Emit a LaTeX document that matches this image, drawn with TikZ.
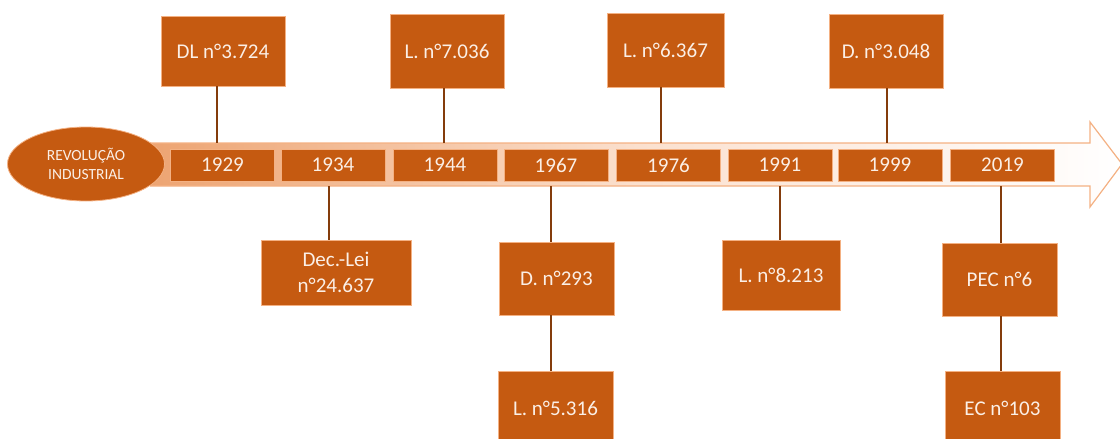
\documentclass[tikz,border=0pt]{standalone}
\usepackage{fontspec}
\setmainfont{Carlito}
\usetikzlibrary{shapes.geometric}
\definecolor{rust}{HTML}{C55A11}
\definecolor{lightor}{HTML}{F4B183}
\definecolor{paleor}{HTML}{F8CBAD}
\definecolor{brownline}{HTML}{843C0C}
\definecolor{txt}{HTML}{FBEFE6}
\begin{document}
\begin{tikzpicture}[x=1pt,y=-1pt,
  yearbox/.style={draw=lightor,line width=1pt,fill=rust,text=txt,font=\fontsize{21}{22}\selectfont,inner sep=0pt,minimum width=104pt,minimum height=32pt},
  lawbox/.style={draw=lightor,line width=0.8pt,fill=rust,text=txt,font=\fontsize{21}{26}\selectfont,inner sep=0pt,align=center},
  conn/.style={draw=brownline,line width=1.5pt}]
\useasboundingbox (0,0) rectangle (1120,439);
% arrow
\shade[left color=lightor!85!rust,right color=white,middle color=paleor!60!white]
  (150,143) -- (1090,143) -- (1090,122) -- (1122,164) -- (1090,207) -- (1090,186) -- (150,186) -- cycle;
\draw[lightor,line width=1.2pt]
  (150,143) -- (1090,143) -- (1090,122) -- (1122,164) -- (1090,207) -- (1090,186) -- (150,186);
% ellipse
\node[ellipse,fill=rust,draw=lightor,line width=0.8pt,minimum width=157pt,minimum height=74pt,inner sep=0pt,text=txt,align=center,font=\fontsize{15.5}{19}\selectfont] (rev) at (86,164) {REVOLUÇÃO\\INDUSTRIAL};
% year boxes
\node[yearbox] (y1929) at (222.5,165) {1929};
\node[yearbox] (y1934) at (333,165) {1934};
\node[yearbox] (y1944) at (445,165) {1944};
\node[yearbox] (y1967) at (556,165) {1967};
\node[yearbox] (y1976) at (668.5,165) {1976};
\node[yearbox] (y1991) at (780,165) {1991};
\node[yearbox] (y1999) at (890,165) {1999};
\node[yearbox] (y2019) at (1002.5,165) {2019};
% top boxes
\node[lawbox,minimum width=124pt,minimum height=70pt] (dl) at (223,51) {DL n°3.724};
\node[lawbox,minimum width=114pt,minimum height=74pt] (l7036) at (447,51) {L. n°7.036};
\node[lawbox,minimum width=117pt,minimum height=74pt] (l6367) at (665.5,50) {L. n°6.367};
\node[lawbox,minimum width=114pt,minimum height=74pt] (d3048) at (886,51) {D. n°3.048};
% bottom boxes
\node[lawbox,minimum width=150pt,minimum height=65pt] (dec) at (336,272.5) {Dec.-Lei\\n°24.637};
\node[lawbox,minimum width=115pt,minimum height=73pt] (d293) at (556.5,278.5) {D. n°293};
\node[lawbox,minimum width=115pt,minimum height=73pt] (l5316) at (555.5,408) {L. n°5.316};
\node[lawbox,minimum width=118pt,minimum height=70pt] (l8213) at (781,275) {L. n°8.213};
\node[lawbox,minimum width=115pt,minimum height=73pt] (pec) at (999.5,279.5) {PEC n°6};
\node[lawbox,minimum width=115pt,minimum height=73pt] (ec) at (1002.5,408) {EC n°103};
% connectors
\coordinate (c1) at (217,143);
\coordinate (c2) at (444,143);
\coordinate (c3) at (661,143);
\coordinate (c4) at (887,143);
\coordinate (c5) at (329,186);
\coordinate (c6) at (551,186);
\coordinate (c7) at (780,186);
\coordinate (c8) at (1001,186);
\draw[conn] (dl.south -| c1) -- (c1);
\draw[conn] (l7036.south -| c2) -- (c2);
\draw[conn] (l6367.south -| c3) -- (c3);
\draw[conn] (d3048.south -| c4) -- (c4);
\draw[conn] (c5) -- (dec.north -| c5);
\draw[conn] (c6) -- (d293.north -| c6);
\draw[conn] (d293.south -| c6) -- (l5316.north -| c6);
\draw[conn] (c7) -- (l8213.north -| c7);
\draw[conn] (c8) -- (pec.north -| c8);
\draw[conn] (pec.south -| c8) -- (ec.north -| c8);
\end{tikzpicture}
\end{document}
